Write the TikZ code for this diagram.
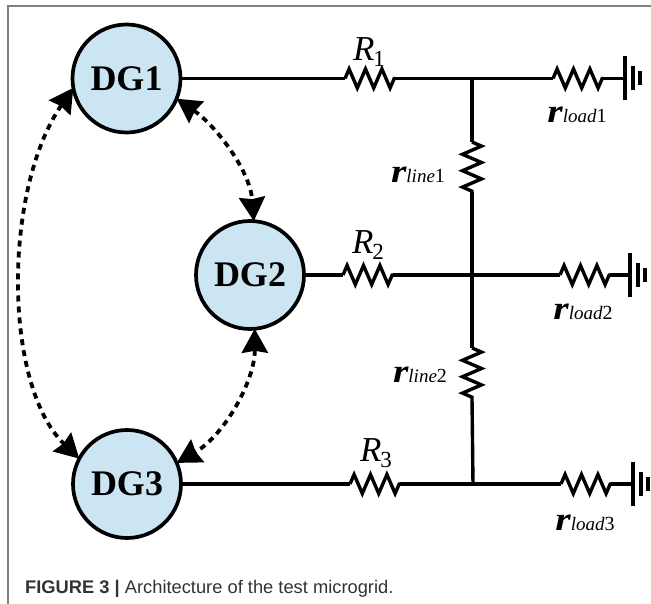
\documentclass[tikz,border=0pt]{standalone}
\usepackage{fontspec}
\setmainfont{Liberation Serif}
\newfontfamily\capfont{Liberation Sans}
\usetikzlibrary{arrows.meta, decorations.pathmorphing}
\definecolor{dgBlue}{HTML}{CCE5F2}
\definecolor{frameGray}{HTML}{808080}
\definecolor{capText}{HTML}{333333}
\newcommand{\rlab}[2]{{\fontsize{33}{33}\selectfont\bfseries\itshape\scalebox{1.2}[1]{r}}{\fontsize{19}{19}\selectfont\textit{#1}{\fontsize{20}{20}\selectfont #2}}}
\newcommand{\Rlab}[1]{{\fontsize{35}{35}\selectfont\textit{R}\kern-1pt\raisebox{-6pt}{\fontsize{23}{23}\selectfont #1}}}
\tikzset{
  dgnode/.style={circle, draw=black, fill=dgBlue, line width=3.7pt, minimum size=108pt, inner sep=0pt, outer sep=0pt, font=\fontsize{36}{36}\selectfont\bfseries},
  wire/.style={line width=3.4pt},
  resis/.style={wire, line join=miter, decorate, decoration={zigzag, amplitude=9.5pt, segment length=16.4pt}},
  link/.style={line width=3.8pt, dash pattern=on 6pt off 5pt, {Stealth[length=24pt, width=26pt, inset=2pt]}-{Stealth[length=24pt, width=26pt, inset=2pt]}},
  lab/.style={inner sep=0pt}
}
\begin{document}
\begin{tikzpicture}[x=1pt, y=-1pt]
        \useasboundingbox (0,0) rectangle (651,604);
        \draw[frameGray, line width=1.5pt] (8,604) -- (8,6) -- (651,6);
        \node[dgnode] (dg1) at (126.5,78.5) {DG1};
        \node[dgnode] (dg2) at (250,275) {DG2};
        \node[dgnode] (dg3) at (127,484) {DG3};
        \draw[link] (dg1.190) .. controls (3,190) and (3,385) .. (dg3.152);
        \draw[link] (dg1.-22) .. controls (215,125) and (250,170) .. (dg2.86);
        \draw[link] (dg2.-85) .. controls (255,380) and (225,435) .. (dg3.23);
        \coordinate (j1) at (472,78.5);
        \coordinate (j2) at (472,275);
        \coordinate (j3) at (473,484);
        \coordinate (r1a) at (345,78.5);
        \coordinate (r1b) at (395,78.5);
        \coordinate (r2a) at (343,275);
        \coordinate (r2b) at (393,275);
        \coordinate (r3a) at (350,484);
        \coordinate (r3b) at (400,484);
        \draw[wire] (dg1) -- (r1a);
        \draw[resis] (r1a) -- (r1b);
        \draw[wire] (r1b) -- (j1);
        \draw[wire] (dg2) -- (r2a);
        \draw[resis] (r2a) -- (r2b);
        \draw[wire] (r2b) -- (j2);
        \draw[wire] (dg3) -- (r3a);
        \draw[resis] (r3a) -- (r3b);
        \draw[wire] (r3b) -- (j3);
        % line resistors
        \coordinate (l1a) at (472,142);
        \coordinate (l1b) at (472,192);
        \coordinate (l2a) at (472,348);
        \coordinate (l2b) at (472,398);
        \draw[wire] (j1) -- (l1a);
        \draw[resis] (l1a) -- (l1b);
        \draw[wire] (l1b) -- (j2);
        \draw[wire] (j2) -- (l2a);
        \draw[resis] (l2a) -- (l2b);
        \draw[wire] (l2b) -- (j3);
        % loads and grounds
        \coordinate (d1a) at (553,78.5);
        \coordinate (d1b) at (603,78.5);
        \coordinate (g1) at (625,78.5);
        \coordinate (d2a) at (560,275);
        \coordinate (d2b) at (610,275);
        \coordinate (g2) at (630,275);
        \coordinate (d3a) at (561,484);
        \coordinate (d3b) at (611,484);
        \coordinate (g3) at (633,484);
        \draw[wire] (j1) -- (d1a);
        \draw[resis] (d1a) -- (d1b);
        \draw[wire] (d1b) -- (g1);
        \draw[wire] (j2) -- (d2a);
        \draw[resis] (d2a) -- (d2b);
        \draw[wire] (d2b) -- (g2);
        \draw[wire] (j3) -- (d3a);
        \draw[resis] (d3a) -- (d3b);
        \draw[wire] (d3b) -- (g3);
        \draw[wire] (g1) ++(0,-22) -- ++(0,44) (g1) ++(8,-12) -- ++(0,24) (g1) ++(15,-7) -- ++(0,14);
        \draw[wire] (g2) ++(0,-22) -- ++(0,44) (g2) ++(8,-12) -- ++(0,24) (g2) ++(15,-7) -- ++(0,14);
        \draw[wire] (g3) ++(0,-22) -- ++(0,44) (g3) ++(8,-12) -- ++(0,24) (g3) ++(15,-7) -- ++(0,14);
        \node[lab] (R1) at (369,52) {\Rlab{1}};
        \node[lab] (R2) at (368,245) {\Rlab{2}};
        \node[lab] (R3) at (376,453) {\Rlab{3}};
        \node[lab] (rl1) at (418,175) {\rlab{line}{1}};
        \node[lab] (rl2) at (420,375) {\rlab{line}{2}};
        \node[lab] (rd1) at (577,115) {\rlab{load}{1}};
        \node[lab] (rd2) at (583,312) {\rlab{load}{2}};
        \node[lab] (rd3) at (585,523) {\rlab{load}{3}};
        \node[anchor=base west, inner sep=0pt, text=capText, font=\capfont\fontsize{18.3}{18}\selectfont] (cap) at (25,593) {\textbf{FIGURE 3 |} Architecture of the test microgrid.};
      \end{tikzpicture}
\end{document}
